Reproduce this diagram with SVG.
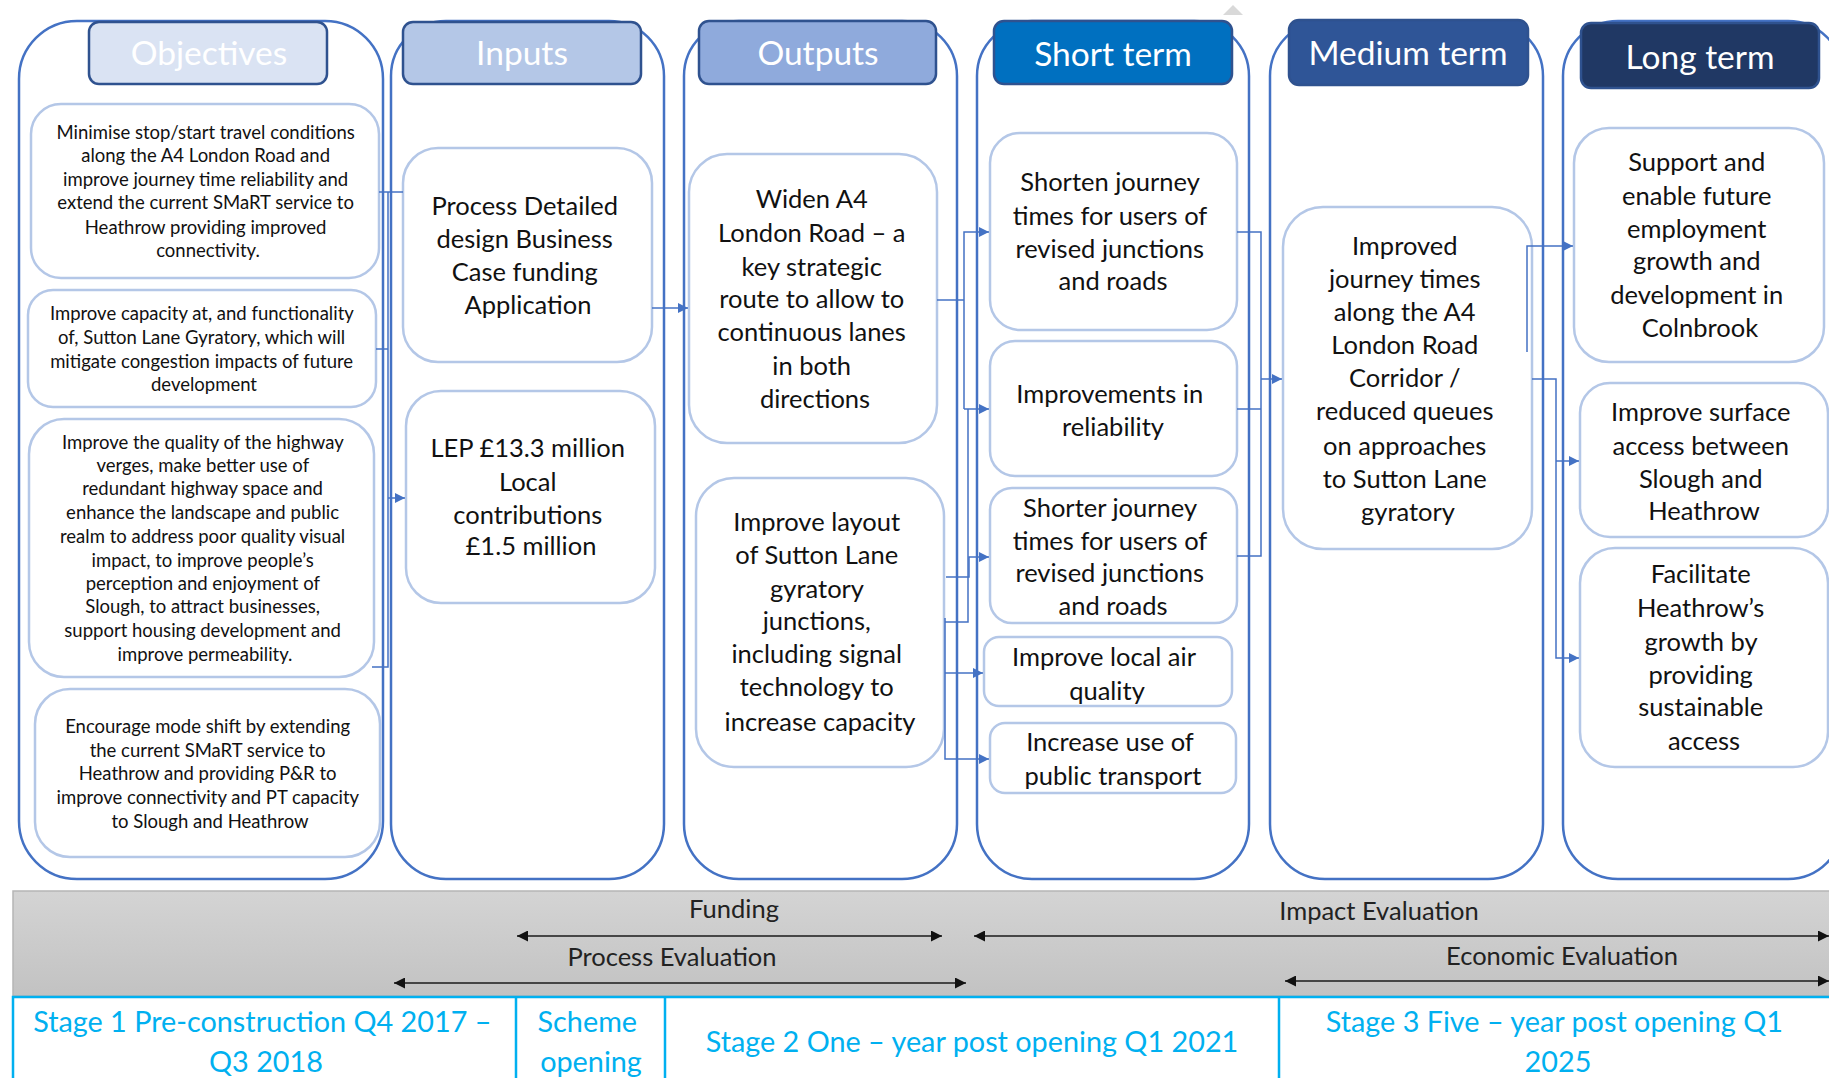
<svg xmlns="http://www.w3.org/2000/svg" width="1829" height="1078" viewBox="0 0 1829 1078">
  <defs>
    <style>
      .col { fill: #ffffff; stroke: #4472C4; stroke-width: 2.5; }
      .hdr { stroke: #2F528F; stroke-width: 2.5; }
      .node { fill: #ffffff; stroke: #B4C7E7; stroke-width: 2.5; }
      .ht { font-family: Lato, "Liberation Sans", sans-serif; font-size: 33.5px; fill: #ffffff; text-anchor: middle; }
      .t { font-family: Lato, "Liberation Sans", sans-serif; font-size: 25.5px; fill: #111111; text-anchor: middle; }
      .ts { font-family: Lato, "Liberation Sans", sans-serif; font-size: 18.5px; fill: #111111; text-anchor: middle; }
      .conn { fill: none; stroke: #4472C4; stroke-width: 1.5; }
      .span { fill: none; stroke: #1a1a1a; stroke-width: 1.5; }
      .bt { font-family: Lato, "Liberation Sans", sans-serif; font-size: 25.5px; fill: #222222; text-anchor: middle; }
      .st { font-family: Lato, "Liberation Sans", sans-serif; font-size: 28.8px; fill: #00B0F0; text-anchor: middle; }
      .grid { fill: none; stroke: #00B0F0; stroke-width: 2.5; }
    </style>
    <marker id="arrow" viewBox="0 0 10 10" refX="10" refY="5" markerWidth="10" markerHeight="10" markerUnits="userSpaceOnUse" orient="auto">
      <path d="M0,0 L10,5 L0,10 z" fill="#4472C4"/>
    </marker>
    <marker id="tip" viewBox="0 0 10 10" refX="10" refY="5" markerWidth="11" markerHeight="11" markerUnits="userSpaceOnUse" orient="auto-start-reverse">
      <path d="M0,0 L10,5 L0,10 z" fill="#111111"/>
    </marker>
    <linearGradient id="bandFill" x1="0" y1="0" x2="0" y2="1">
      <stop offset="0" stop-color="#D4D4D4"/>
      <stop offset="1" stop-color="#C2C2C2"/>
    </linearGradient>
  </defs>

  <rect width="1829" height="1078" fill="#ffffff"/>

  <!-- small handle mark above the columns -->
  <polygon points="1223,15 1233,5 1243,15" fill="#D9D9D9"/>

  <!-- column frames -->
  <g id="columns">
    <rect id="col-objectives" class="col" x="19" y="21" width="364" height="858" rx="58" ry="58"/>
    <rect id="col-inputs" class="col" x="391" y="21" width="273" height="858" rx="55" ry="55"/>
    <rect id="col-outputs" class="col" x="684" y="21" width="273" height="858" rx="55" ry="55"/>
    <rect id="col-short" class="col" x="977" y="21" width="272" height="858" rx="55" ry="55"/>
    <rect id="col-medium" class="col" x="1270" y="21" width="273" height="858" rx="55" ry="55"/>
    <rect id="col-long" class="col" x="1563" y="21" width="280" height="858" rx="55" ry="55"/>
  </g>

  <!-- column headers -->
  <g id="hdr-objectives">
    <rect class="hdr" x="89" y="22" width="238" height="62" rx="10" fill="#DAE3F3"/>
    <text class="ht" x="209" y="65">Objectives</text>
  </g>
  <g id="hdr-inputs">
    <rect class="hdr" x="403" y="22" width="238" height="62" rx="10" fill="#B4C7E7"/>
    <text class="ht" x="522" y="65">Inputs</text>
  </g>
  <g id="hdr-outputs">
    <rect class="hdr" x="699" y="21" width="237" height="63" rx="10" fill="#8FAADC"/>
    <text class="ht" x="818" y="65">Outputs</text>
  </g>
  <g id="hdr-short">
    <rect class="hdr" x="994" y="21" width="238" height="63" rx="10" fill="#0070C0" stroke="#1F5FA8"/>
    <text class="ht" x="1113" y="66">Short term</text>
  </g>
  <g id="hdr-medium">
    <rect class="hdr" x="1289" y="20" width="239" height="65" rx="10" fill="#2F5597" stroke="#2F5597"/>
    <text class="ht" x="1408" y="65">Medium term</text>
  </g>
  <g id="hdr-long">
    <rect class="hdr" x="1581" y="23" width="238" height="65" rx="10" fill="#203864" stroke="#203864"/>
    <text class="ht" x="1700" y="69">Long term</text>
  </g>

  <!-- objectives -->
  <g id="obj-1">
    <rect class="node" x="31" y="104" width="348" height="174" rx="30"/>
    <text class="ts">
      <tspan x="208" y="139">Minimise stop/start travel conditions</tspan>
      <tspan x="208" y="162">along the A4 London Road and</tspan>
      <tspan x="208" y="186">improve journey time reliability and</tspan>
      <tspan x="208" y="209">extend the current SMaRT service to</tspan>
      <tspan x="208" y="234">Heathrow providing improved</tspan>
      <tspan x="208" y="257">connectivity.</tspan>
    </text>
  </g>
  <g id="obj-2">
    <rect class="node" x="28" y="290" width="348" height="117" rx="25"/>
    <text class="ts">
      <tspan x="204" y="320">Improve capacity at, and functionality</tspan>
      <tspan x="204" y="344">of, Sutton Lane Gyratory, which will</tspan>
      <tspan x="204" y="368">mitigate congestion impacts of future</tspan>
      <tspan x="204" y="391">development</tspan>
    </text>
  </g>
  <g id="obj-3">
    <rect class="node" x="29" y="419" width="345" height="258" rx="35"/>
    <text class="ts">
      <tspan x="205" y="449">Improve the quality of the highway</tspan>
      <tspan x="205" y="472">verges, make better use of</tspan>
      <tspan x="205" y="495">redundant highway space and</tspan>
      <tspan x="205" y="519">enhance the landscape and public</tspan>
      <tspan x="205" y="543">realm to address poor quality visual</tspan>
      <tspan x="205" y="567">impact, to improve people’s</tspan>
      <tspan x="205" y="590">perception and enjoyment of</tspan>
      <tspan x="205" y="613">Slough, to attract businesses,</tspan>
      <tspan x="205" y="637">support housing development and</tspan>
      <tspan x="205" y="661">improve permeability.</tspan>
    </text>
  </g>
  <g id="obj-4">
    <rect class="node" x="35" y="689" width="345" height="168" rx="35"/>
    <text class="ts">
      <tspan x="210" y="733">Encourage mode shift by extending</tspan>
      <tspan x="210" y="757">the current SMaRT service to</tspan>
      <tspan x="210" y="780">Heathrow and providing P&amp;R to</tspan>
      <tspan x="210" y="804">improve connectivity and PT capacity</tspan>
      <tspan x="210" y="828">to Slough and Heathrow</tspan>
    </text>
  </g>

  <!-- inputs -->
  <g id="in-process">
    <rect class="node" x="403" y="148" width="249" height="214" rx="35"/>
    <text class="t">
      <tspan x="528" y="215">Process Detailed</tspan>
      <tspan x="528" y="248">design Business</tspan>
      <tspan x="528" y="281">Case funding</tspan>
      <tspan x="528" y="314">Application</tspan>
    </text>
  </g>
  <g id="in-funding">
    <rect class="node" x="406" y="391" width="249" height="212" rx="35"/>
    <text class="t">
      <tspan x="531" y="457">LEP £13.3 million</tspan>
      <tspan x="531" y="491">Local</tspan>
      <tspan x="531" y="524">contributions</tspan>
      <tspan x="531" y="555">£1.5 million</tspan>
    </text>
  </g>

  <!-- outputs -->
  <g id="out-widen">
    <rect class="node" x="689" y="154" width="248" height="289" rx="38"/>
    <text class="t">
      <tspan x="815" y="208">Widen A4</tspan>
      <tspan x="815" y="242">London Road – a</tspan>
      <tspan x="815" y="276">key strategic</tspan>
      <tspan x="815" y="308">route to allow to</tspan>
      <tspan x="815" y="341">continuous lanes</tspan>
      <tspan x="815" y="375">in both</tspan>
      <tspan x="815" y="408">directions</tspan>
    </text>
  </g>
  <g id="out-layout">
    <rect class="node" x="696" y="478" width="248" height="289" rx="38"/>
    <text class="t">
      <tspan x="820" y="531">Improve layout</tspan>
      <tspan x="820" y="564">of Sutton Lane</tspan>
      <tspan x="820" y="598">gyratory</tspan>
      <tspan x="820" y="630">junctions,</tspan>
      <tspan x="820" y="663">including signal</tspan>
      <tspan x="820" y="696">technology to</tspan>
      <tspan x="820" y="731">increase capacity</tspan>
    </text>
  </g>

  <!-- short term -->
  <g id="st-shorten">
    <rect class="node" x="990" y="133" width="247" height="197" rx="30"/>
    <text class="t">
      <tspan x="1113" y="191">Shorten journey</tspan>
      <tspan x="1113" y="225">times for users of</tspan>
      <tspan x="1113" y="258">revised junctions</tspan>
      <tspan x="1113" y="290">and roads</tspan>
    </text>
  </g>
  <g id="st-reliability">
    <rect class="node" x="990" y="341" width="247" height="135" rx="25"/>
    <text class="t">
      <tspan x="1113" y="403">Improvements in</tspan>
      <tspan x="1113" y="436">reliability</tspan>
    </text>
  </g>
  <g id="st-shorter">
    <rect class="node" x="990" y="488" width="247" height="135" rx="22"/>
    <text class="t">
      <tspan x="1113" y="517">Shorter journey</tspan>
      <tspan x="1113" y="550">times for users of</tspan>
      <tspan x="1113" y="582">revised junctions</tspan>
      <tspan x="1113" y="615">and roads</tspan>
    </text>
  </g>
  <g id="st-air">
    <rect class="node" x="984" y="637" width="248" height="69" rx="15"/>
    <text class="t">
      <tspan x="1107" y="666">Improve local air</tspan>
      <tspan x="1107" y="700">quality</tspan>
    </text>
  </g>
  <g id="st-transport">
    <rect class="node" x="990" y="723" width="246" height="70" rx="15"/>
    <text class="t">
      <tspan x="1113" y="751">Increase use of</tspan>
      <tspan x="1113" y="785">public transport</tspan>
    </text>
  </g>

  <!-- medium term -->
  <g id="mt-journey">
    <rect class="node" x="1283" y="207" width="249" height="342" rx="40"/>
    <text class="t">
      <tspan x="1408" y="255">Improved</tspan>
      <tspan x="1408" y="288">journey times</tspan>
      <tspan x="1408" y="321">along the A4</tspan>
      <tspan x="1408" y="354">London Road</tspan>
      <tspan x="1408" y="387">Corridor /</tspan>
      <tspan x="1408" y="420">reduced queues</tspan>
      <tspan x="1408" y="455">on approaches</tspan>
      <tspan x="1408" y="488">to Sutton Lane</tspan>
      <tspan x="1408" y="521">gyratory</tspan>
    </text>
  </g>

  <!-- long term -->
  <g id="lt-employment">
    <rect class="node" x="1574" y="128" width="250" height="234" rx="35"/>
    <text class="t">
      <tspan x="1700" y="171">Support and</tspan>
      <tspan x="1700" y="205">enable future</tspan>
      <tspan x="1700" y="238">employment</tspan>
      <tspan x="1700" y="270">growth and</tspan>
      <tspan x="1700" y="304">development in</tspan>
      <tspan x="1700" y="337">Colnbrook</tspan>
    </text>
  </g>
  <g id="lt-access">
    <rect class="node" x="1580" y="383" width="248" height="154" rx="30"/>
    <text class="t">
      <tspan x="1704" y="421">Improve surface</tspan>
      <tspan x="1704" y="455">access between</tspan>
      <tspan x="1704" y="488">Slough and</tspan>
      <tspan x="1704" y="520">Heathrow</tspan>
    </text>
  </g>
  <g id="lt-heathrow">
    <rect class="node" x="1580" y="548" width="248" height="219" rx="35"/>
    <text class="t">
      <tspan x="1704" y="583">Facilitate</tspan>
      <tspan x="1704" y="617">Heathrow’s</tspan>
      <tspan x="1704" y="651">growth by</tspan>
      <tspan x="1704" y="684">providing</tspan>
      <tspan x="1704" y="716">sustainable</tspan>
      <tspan x="1704" y="750">access</tspan>
    </text>
  </g>

  <!-- connectors -->
  <g id="connectors">
    <!-- objectives to inputs -->
    <path class="conn" d="M379,192 H403"/>
    <path class="conn" d="M376,349 H388"/>
    <path class="conn" d="M372,667 H388 V192"/>
    <path class="conn" d="M388,498 H405" marker-end="url(#arrow)"/>
    <!-- inputs to outputs -->
    <path class="conn" d="M652,308 H688" marker-end="url(#arrow)"/>
    <!-- outputs to short term -->
    <path class="conn" d="M937,300 H964"/>
    <path class="conn" d="M964,409 V232 H989" marker-end="url(#arrow)"/>
    <path class="conn" d="M964,409 H989" marker-end="url(#arrow)"/>
    <path class="conn" d="M945,622 H968 V409"/>
    <path class="conn" d="M946,577 H969 V557 H989" marker-end="url(#arrow)"/>
    <path class="conn" d="M945,618 V759 H989" marker-end="url(#arrow)"/>
    <path class="conn" d="M945,673 H983" marker-end="url(#arrow)"/>
    <!-- short term to medium term -->
    <path class="conn" d="M1237,232 H1261 V556 H1237"/>
    <path class="conn" d="M1237,409 H1261"/>
    <path class="conn" d="M1261,379 H1282" marker-end="url(#arrow)"/>
    <!-- medium term to long term -->
    <path class="conn" d="M1527,352 V246 H1573" marker-end="url(#arrow)"/>
    <path class="conn" d="M1532,379 H1556 V658 H1579" marker-end="url(#arrow)"/>
    <path class="conn" d="M1556,461 H1579" marker-end="url(#arrow)"/>
  </g>

  <!-- evaluation band -->
  <g id="evaluation-band">
    <rect x="13" y="891" width="1830" height="105" fill="url(#bandFill)" stroke="#B5B5B5" stroke-width="1.5"/>
    <text class="bt" x="734" y="918">Funding</text>
    <path class="span" d="M517,936 H942" marker-start="url(#tip)" marker-end="url(#tip)"/>
    <text class="bt" x="672" y="966">Process Evaluation</text>
    <path class="span" d="M394,983 H966" marker-start="url(#tip)" marker-end="url(#tip)"/>
    <text class="bt" x="1379" y="920">Impact Evaluation</text>
    <path class="span" d="M974,936 H1829" marker-start="url(#tip)" marker-end="url(#tip)"/>
    <text class="bt" x="1562" y="965">Economic Evaluation</text>
    <path class="span" d="M1285,981 H1829" marker-start="url(#tip)" marker-end="url(#tip)"/>
  </g>

  <!-- stage timeline -->
  <g id="stages">
    <rect x="13" y="997" width="1830" height="100" fill="#ffffff"/>
    <path class="grid" d="M13,1080 V997 H1840 M516,997 V1080 M665,997 V1080 M1279,997 V1080"/>
    <text class="st">
      <tspan x="266" y="1032">Stage 1 Pre-construction Q4 2017 –</tspan>
      <tspan x="266" y="1072">Q3 2018</tspan>
    </text>
    <text class="st">
      <tspan x="591" y="1032">Scheme</tspan>
      <tspan x="591" y="1072">opening</tspan>
    </text>
    <text class="st" x="972" y="1052">Stage 2 One – year post opening Q1 2021</text>
    <text class="st">
      <tspan x="1558" y="1032">Stage 3 Five – year post opening Q1</tspan>
      <tspan x="1558" y="1072">2025</tspan>
    </text>
  </g>
</svg>
